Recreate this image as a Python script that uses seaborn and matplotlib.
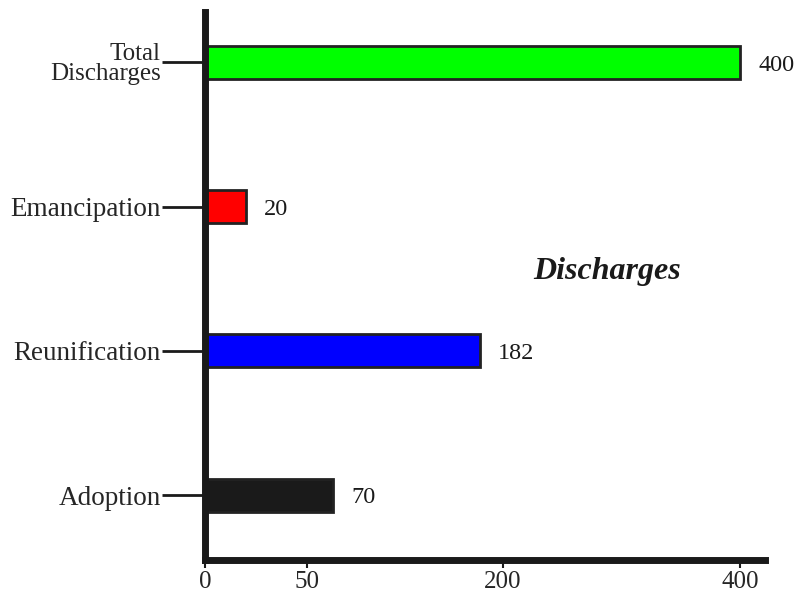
import numpy as np
import pandas as pd
import matplotlib.pyplot as plt
import seaborn as sns

# data
categories = ["Total\nDischarges", "Emancipation", "Reunification", "Adoption"]
counts = [400, 20, 182, 70]
bar_colors = ["#00ff00", "#ff0000", "#0000ff", "#1a1a1a"]
tick_values = [0, 50, 200, 400]
tick_labels = ["0", "50", "200", "400"]

sns.set_style("white")
plt.rcParams["font.family"] = ["Liberation Serif", "DejaVu Serif"]

df = pd.DataFrame({"category": categories, "count": counts})

fig = plt.figure(figsize=(8.08, 5.94), dpi=100)
ax = fig.add_axes([205 / 808, 34 / 594, 560 / 808, 548 / 594])

sns.barplot(data=df, x="count", y="category", hue="category",
            palette=bar_colors, saturation=1, orient="h", width=0.23,
            edgecolor="#222222", linewidth=2, legend=False, ax=ax)

# the original axis is not linear: ticks sit unevenly, so use a piecewise scale
_src = [0, 50, 200, 400, 500]
_dst = [0, 102, 298, 535, 653.5]
def fwd(v):
    return np.interp(v, _src, _dst)
def inv(v):
    return np.interp(v, _dst, _src)
ax.set_xscale("function", functions=(fwd, inv))
ax.set_xlim(0, 421)
ax.set_ylim(3.45, -0.35)

ax.set_xticks(tick_values)
ax.set_xticklabels(tick_labels, fontsize=18)
ax.set_xlabel("")
ax.set_ylabel("")

for lbl in ax.get_yticklabels():
    if "Total" in lbl.get_text():
        lbl.set_fontsize(18)
        lbl.set_linespacing(0.9)
    else:
        lbl.set_fontsize(19.5)

ax.tick_params(axis="y", length=31, width=2, pad=1, color="#1a1a1a", left=True)
ax.tick_params(axis="x", length=6, width=1.5, pad=2, color="#1a1a1a", bottom=True)

for side in ["top", "right"]:
    ax.spines[side].set_visible(False)
for side in ["left", "bottom"]:
    ax.spines[side].set_linewidth(5)
    ax.spines[side].set_color("#1a1a1a")

# value labels next to the bars
for i, v in enumerate(counts):
    ax.annotate(str(v), xy=(v, i), xytext=(13, -2), textcoords="offset points",
                ha="left", va="center", fontsize=17.5, color="#1a1a1a")

fig.text(607 / 808, 1 - 272 / 594, "Discharges", ha="center", va="center",
         fontsize=23, fontweight="bold", fontstyle="italic", color="#1a1a1a")

fig.savefig("out.png", dpi=100)
